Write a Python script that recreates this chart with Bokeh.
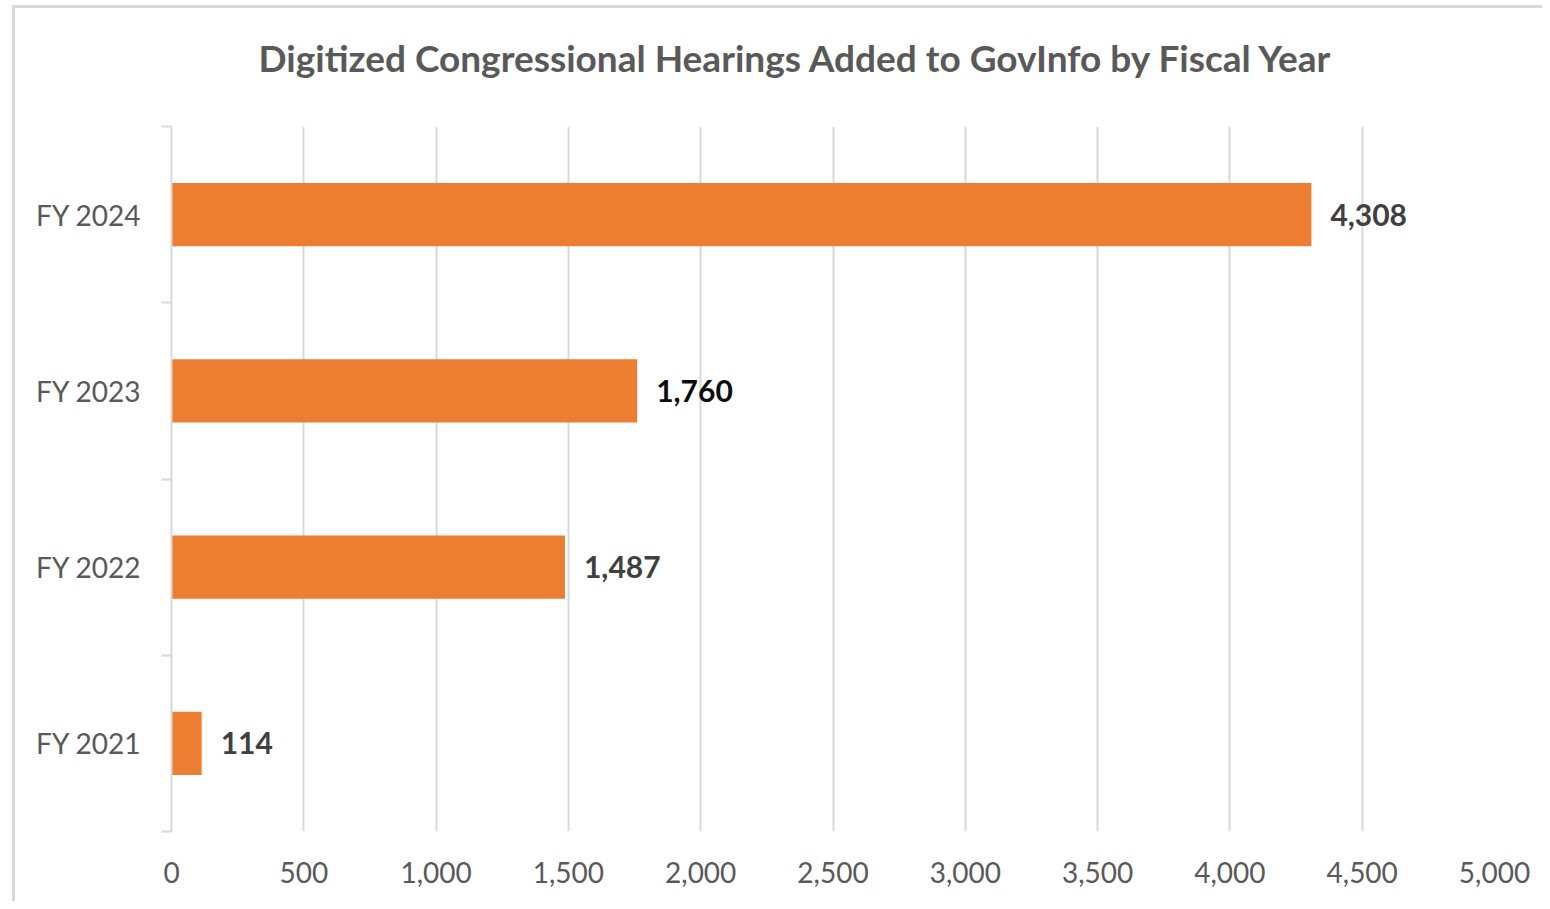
from bokeh.plotting import figure
from bokeh.models import (Range1d, FixedTicker, NumeralTickFormatter, Title,
                          ColumnDataSource)
from bokeh.core.properties import value
from bokeh.embed import file_html
from bokeh.resources import INLINE

# ---- data ----
categories = ["FY 2021", "FY 2022", "FY 2023", "FY 2024"]
hearings = [114, 1487, 1760, 4308]
x_ticks = [0, 500, 1000, 1500, 2000, 2500, 3000, 3500, 4000, 4500, 5000]
title_text = "Digitized Congressional Hearings Added to GovInfo by Fiscal Year"

# ---- styles ----
BAR = "#ED7D31"
GRID = "#d9d9d9"
TXT = "#595959"
label_colors = ["#404040", "#404040", "#0d0d0d", "#404040"]
FONT = "Lato"

ypos = [i + 0.5 for i in range(len(categories))]
src = ColumnDataSource(dict(
    y=ypos, v=hearings, lab=[f"{v:,}" for v in hearings], col=label_colors))

p = figure(width=1530, height=896, output_backend="svg", toolbar_location=None,
           x_range=Range1d(x_ticks[0], x_ticks[-1]),
           y_range=Range1d(0, len(categories)),
           min_border_left=156, min_border_right=51,
           min_border_top=116, min_border_bottom=73)
p.styles = {"border-left": f"3px solid {GRID}", "border-top": f"3px solid {GRID}",
            "margin-left": "12px", "margin-top": "5px"}

# spacer between the title and the plot frame
p.add_layout(Title(text=" ", text_font_size="1px", standoff=19), "above")

p.title = Title(text=title_text, align="left", text_font=FONT,
                text_font_size="37px", text_font_style="bold", text_color=TXT,
                standoff=49, offset=87)

p.hbar(y="y", right="v", left=0, height=0.36, source=src, color=BAR, line_color=None)
p.text(x="v", y="y", text="lab", source=src, x_offset=19, text_baseline="middle",
       text_align="left", text_font=value(FONT), text_font_style="bold",
       text_font_size="30px", text_color="col")

# x axis
xa = p.xaxis[0]
xa.ticker = FixedTicker(ticks=x_ticks)
xa.formatter = NumeralTickFormatter(format="0,0")
xa.axis_line_color = None
xa.major_tick_line_color = None
xa.minor_tick_line_color = None
xa.major_label_text_font = FONT
xa.major_label_text_font_size = "28px"
xa.major_label_text_color = TXT
xa.major_label_standoff = 24

# y axis
ya = p.yaxis[0]
ya.ticker = FixedTicker(ticks=ypos, minor_ticks=list(range(len(categories) + 1)))
ya.major_label_overrides = {y: c for y, c in zip(ypos, categories)}
ya.axis_line_color = GRID
ya.axis_line_width = 2
ya.major_tick_line_color = None
ya.minor_tick_line_color = GRID
ya.minor_tick_line_width = 2
ya.minor_tick_out = 10
ya.minor_tick_in = 0
ya.major_label_text_font = FONT
ya.major_label_text_font_size = "28px"
ya.major_label_text_color = TXT
ya.major_label_standoff = 20

p.xgrid.grid_line_color = GRID
p.xgrid.grid_line_width = 2
p.ygrid.grid_line_color = None
p.outline_line_color = None

open("out.html", "w").write(file_html(p, INLINE))
